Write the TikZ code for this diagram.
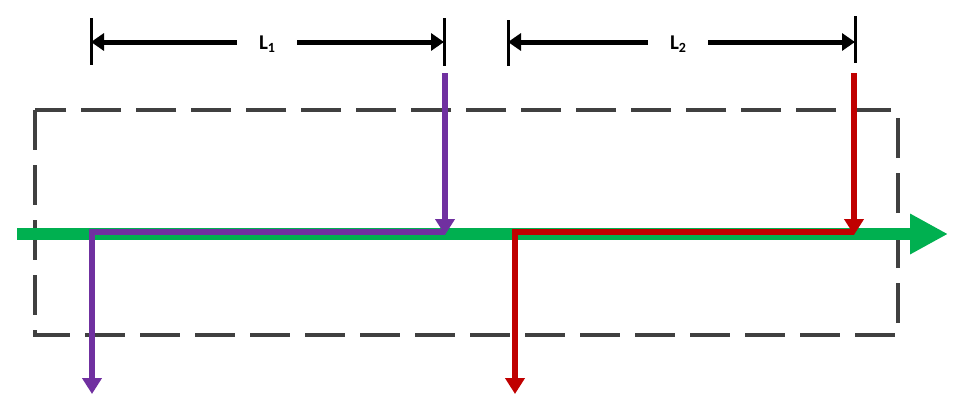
\documentclass[tikz,border=0pt]{standalone}
\usepackage{fontspec}
\setmainfont{Carlito}
\usetikzlibrary{arrows.meta}
\definecolor{flowgreen}{HTML}{00B050}
\definecolor{flowpurple}{HTML}{7030A0}
\definecolor{flowred}{HTML}{C00000}
\definecolor{boxgray}{HTML}{404040}
\newcommand{\dimsub}[1]{\raisebox{-2.5pt}{\fontsize{14}{16}\selectfont #1}}
\begin{document}
\begin{tikzpicture}[x=1pt,y=-1pt,
  boxline/.style={draw=boxgray,line width=4pt,dash pattern=on 40pt off 15pt,dash phase=0pt},
  mainflow/.style={draw=flowgreen,line width=12pt,-{Triangle[length=38pt,width=38pt]}},
  pathline/.style={line width=5.5pt,line join=miter,-{Triangle[length=16pt,width=19pt]}},
  tickline/.style={draw=black,line width=3pt},
  dimline/.style={draw=black,line width=5pt,-{Triangle[length=13pt,width=17pt]}},
  dimlabel/.style={font=\bfseries\fontsize{21}{24}\selectfont,inner sep=0pt,minimum width=60pt,minimum height=20pt}
]
\useasboundingbox (0,0) rectangle (961,402);
% dashed box
\draw[boxline] (35,110) rectangle (898,335);
% main green flow
\coordinate (gs) at (17,234);
\coordinate (ge) at (948,234);
\draw[mainflow] (gs) -- (ge);
% purple path
\coordinate (p0) at (445,73);
\coordinate (p1) at (445,235);
\coordinate (p2) at (445,232);
\coordinate (p3) at (92,232);
\coordinate (p4) at (92,394);
\draw[pathline,flowpurple] (p0) -- (p1);
\draw[pathline,flowpurple] (p2) -- (p3) -- (p4);
% red path
\coordinate (r0) at (854,73);
\coordinate (r1) at (854,235);
\coordinate (r2) at (854,232);
\coordinate (r3) at (515,232);
\coordinate (r4) at (515,394);
\draw[pathline,flowred] (r0) -- (r1);
\draw[pathline,flowred] (r2) -- (r3) -- (r4);
% dimension L1
\coordinate (t1at) at (91,18);
\coordinate (t1ab) at (91,65);
\coordinate (t1bt) at (444,18);
\coordinate (t1bb) at (444,66);
\coordinate (d1l) at (91,42);
\coordinate (d1r) at (444,42);
\draw[tickline] (t1at) -- (t1ab);
\draw[tickline] (t1bt) -- (t1bb);
\node[dimlabel] (L1) at (267,44) {L\dimsub{1}};
\draw[dimline] (L1.west |- d1l) -- (d1l);
\draw[dimline] (L1.east |- d1r) -- (d1r);
% dimension L2
\coordinate (t2at) at (508,20);
\coordinate (t2ab) at (508,66);
\coordinate (t2bt) at (855,16);
\coordinate (t2bb) at (855,63);
\coordinate (d2l) at (508,42);
\coordinate (d2r) at (855,42);
\draw[tickline] (t2at) -- (t2ab);
\draw[tickline] (t2bt) -- (t2bb);
\node[dimlabel] (L2) at (678,44) {L\dimsub{2}};
\draw[dimline] (L2.west |- d2l) -- (d2l);
\draw[dimline] (L2.east |- d2r) -- (d2r);
\end{tikzpicture}
\end{document}
